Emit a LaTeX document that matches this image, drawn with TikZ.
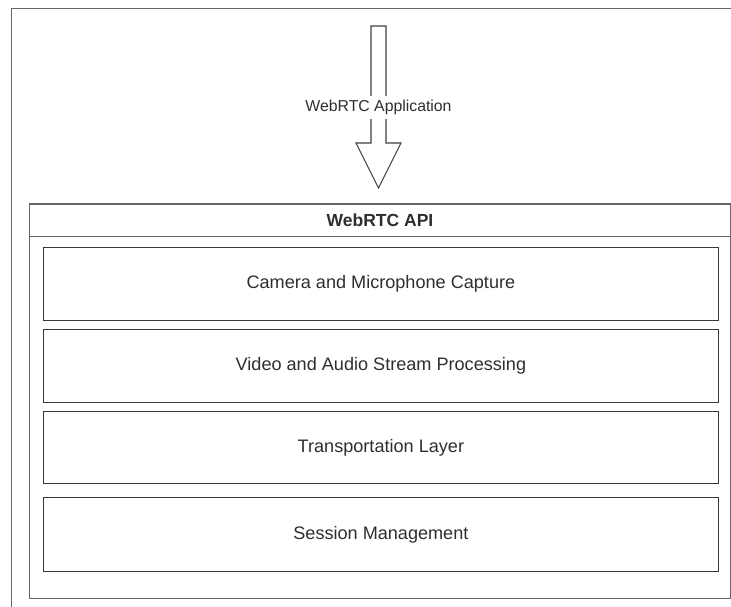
\documentclass[tikz,border=0pt]{standalone}
\usepackage{fontspec}
\setmainfont{Liberation Sans}
\begin{document}
\begin{tikzpicture}[x=1pt,y=-1pt,
  frame/.style={draw=black!60, line width=1.5pt},
  layerbox/.style={draw=black!78, line width=1.3pt, anchor=north west,
    minimum width=675.5pt, inner sep=0pt},
  layertext/.style={text=black!82, font=\fontsize{18.1}{21}\selectfont},
  flowarrow/.style={draw=black!75, line width=1.1pt, fill=white, line join=miter}]
\useasboundingbox (0,0) rectangle (731,607);
\clip (0,0) rectangle (731,607);

% surrounding frame, running past the page edges
\draw[frame] (11.5,640) -- (11.5,8.5) -- (760,8.5);

% WebRTC API container with its header band
\node[frame, anchor=north west, minimum width=701.5pt, minimum height=394.5pt,
      inner sep=0pt] (api) at (28.5,203) {};
\path (api.north west) ++(0,33.5) coordinate (hdr);
\draw[frame] (hdr) -- (hdr -| api.east);
\node[font=\fontsize{17.5}{21}\selectfont\bfseries, text=black!82] (apititle)
  at (380,220) {WebRTC API};

% stacked layers
\node[layerbox, minimum height=73pt] (capture) at (42.5,247) {};
\node[layertext] at (capture.center) {Camera and Microphone Capture};
\node[layerbox, minimum height=73pt] (stream) at (42.5,329) {};
\node[layertext] at (stream.center) {Video and Audio Stream Processing};
\node[layerbox, minimum height=72pt] (transport) at (42.5,411) {};
\node[layertext] at (transport.center) {Transportation Layer};
\node[layerbox, minimum height=74pt] (session) at (42.5,497) {};
\node[layertext] at (session.center) {Session Management};

% block arrow from the application down into the API
\draw[flowarrow] (371,26) -- (386,26) -- (386,143) -- (401,143) -- (378.5,188)
  -- (356,143) -- (371,143) -- cycle;
\node[fill=white, inner xsep=3pt, inner ysep=4pt, text=black!82,
      font=\fontsize{15.8}{19}\selectfont] (app) at (378.5,107.5) {WebRTC Application};
\end{tikzpicture}
\end{document}
